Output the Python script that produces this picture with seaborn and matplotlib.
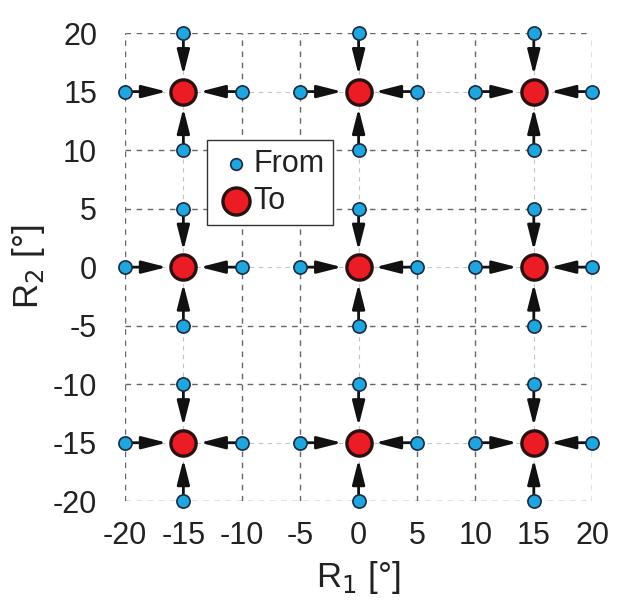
import matplotlib

matplotlib.use("Agg")

import matplotlib.pyplot as plt
import pandas as pd
import seaborn as sns

# target points ("To")
to_x = [-15, 0, 15, -15, 0, 15, -15, 0, 15]
to_y = [15, 15, 15, 0, 0, 0, -15, -15, -15]

# start points ("From"), four per target: left, right, above, below
from_x = [
    -20, -10, -15, -15, -5, 5, 0, 0, 10, 20, 15, 15,
    -20, -10, -15, -15, -5, 5, 0, 0, 10, 20, 15, 15,
    -20, -10, -15, -15, -5, 5, 0, 0, 10, 20, 15, 15,
]
from_y = [
    15, 15, 20, 10, 15, 15, 20, 10, 15, 15, 20, 10,
    0, 0, 5, -5, 0, 0, 5, -5, 0, 0, 5, -5,
    -15, -15, -10, -20, -15, -15, -10, -20, -15, -15, -10, -20,
]
# index of the target each start point moves to
target_idx = [0] * 4 + [1] * 4 + [2] * 4 + [3] * 4 + [4] * 4 + [5] * 4 + [6] * 4 + [7] * 4 + [8] * 4

ticks = [-20, -15, -10, -5, 0, 5, 10, 15, 20]
box_lines = [-20, -10, -5, 5, 10, 20]
mid_lines = [-15, 0, 15]

BLUE = "#1fa6df"
RED = "#ec1c24"
TEXT = "#222222"

sns.set_style("white")
plt.rcParams["font.family"] = ["Liberation Sans", "DejaVu Sans"]
plt.rcParams["axes.unicode_minus"] = False

fig = plt.figure(figsize=(6.28, 6.12), dpi=100)
ax = fig.add_axes([0.199, 0.181, 0.744, 0.765])

for v in box_lines:
    ax.axvline(v, color="#666666", linestyle=(0, (4, 4)), linewidth=1.0, zorder=0)
    ax.axhline(v, color="#666666", linestyle=(0, (4, 4)), linewidth=1.0, zorder=0)
for v in mid_lines:
    ax.axvline(v, color="#c4c4c4", linestyle=(0, (4, 4)), linewidth=0.8, zorder=0)
    ax.axhline(v, color="#c4c4c4", linestyle=(0, (4, 4)), linewidth=0.8, zorder=0)

for fx, fy, t in zip(from_x, from_y, target_idx):
    ax.annotate(
        "",
        xy=(to_x[t], to_y[t]),
        xytext=(fx, fy),
        arrowprops=dict(
            arrowstyle="-|>,head_length=1.5,head_width=0.38",
            color="#111111",
            linewidth=2.0,
            shrinkA=3,
            shrinkB=12,
        ),
        zorder=2,
        annotation_clip=False,
    )

from_df = pd.DataFrame({"x": from_x, "y": from_y})
to_df = pd.DataFrame({"x": to_x, "y": to_y})

sns.scatterplot(
    data=from_df, x="x", y="y", ax=ax, s=90, color=BLUE,
    edgecolor="#1a2a40", linewidth=1.2, zorder=3, clip_on=False, label="From",
)
sns.scatterplot(
    data=to_df, x="x", y="y", ax=ax, s=330, color=RED,
    edgecolor="#2a1010", linewidth=2.4, zorder=3, clip_on=False, label="To",
)

ax.set_xlim(-20, 20)
ax.set_ylim(-20, 20)
ax.set_xticks(ticks)
ax.set_yticks(ticks)
ax.tick_params(labelsize=22, length=0, labelcolor=TEXT)
ax.tick_params(axis="x", pad=14)
ax.tick_params(axis="y", pad=20)
for side in ax.spines.values():
    side.set_visible(False)

ax.set_xlabel("R$_1$ [°]", fontsize=25, color=TEXT, labelpad=6)
ax.set_ylabel("R$_2$ [°]", fontsize=25, color=TEXT, labelpad=4)

leg = ax.legend(
    loc="upper left", bbox_to_anchor=(0.176, 0.771), fontsize=22,
    frameon=True, fancybox=False, edgecolor="#333333", framealpha=1,
    handletextpad=-0.1, borderpad=0.3, labelspacing=0.2, handlelength=1.3,
    borderaxespad=0, labelcolor=TEXT,
)
leg.get_frame().set_linewidth(1.0)
leg.legend_handles[0].set_sizes([70])
leg.legend_handles[1].set_sizes([380])

fig.savefig("out.png", dpi=100)
